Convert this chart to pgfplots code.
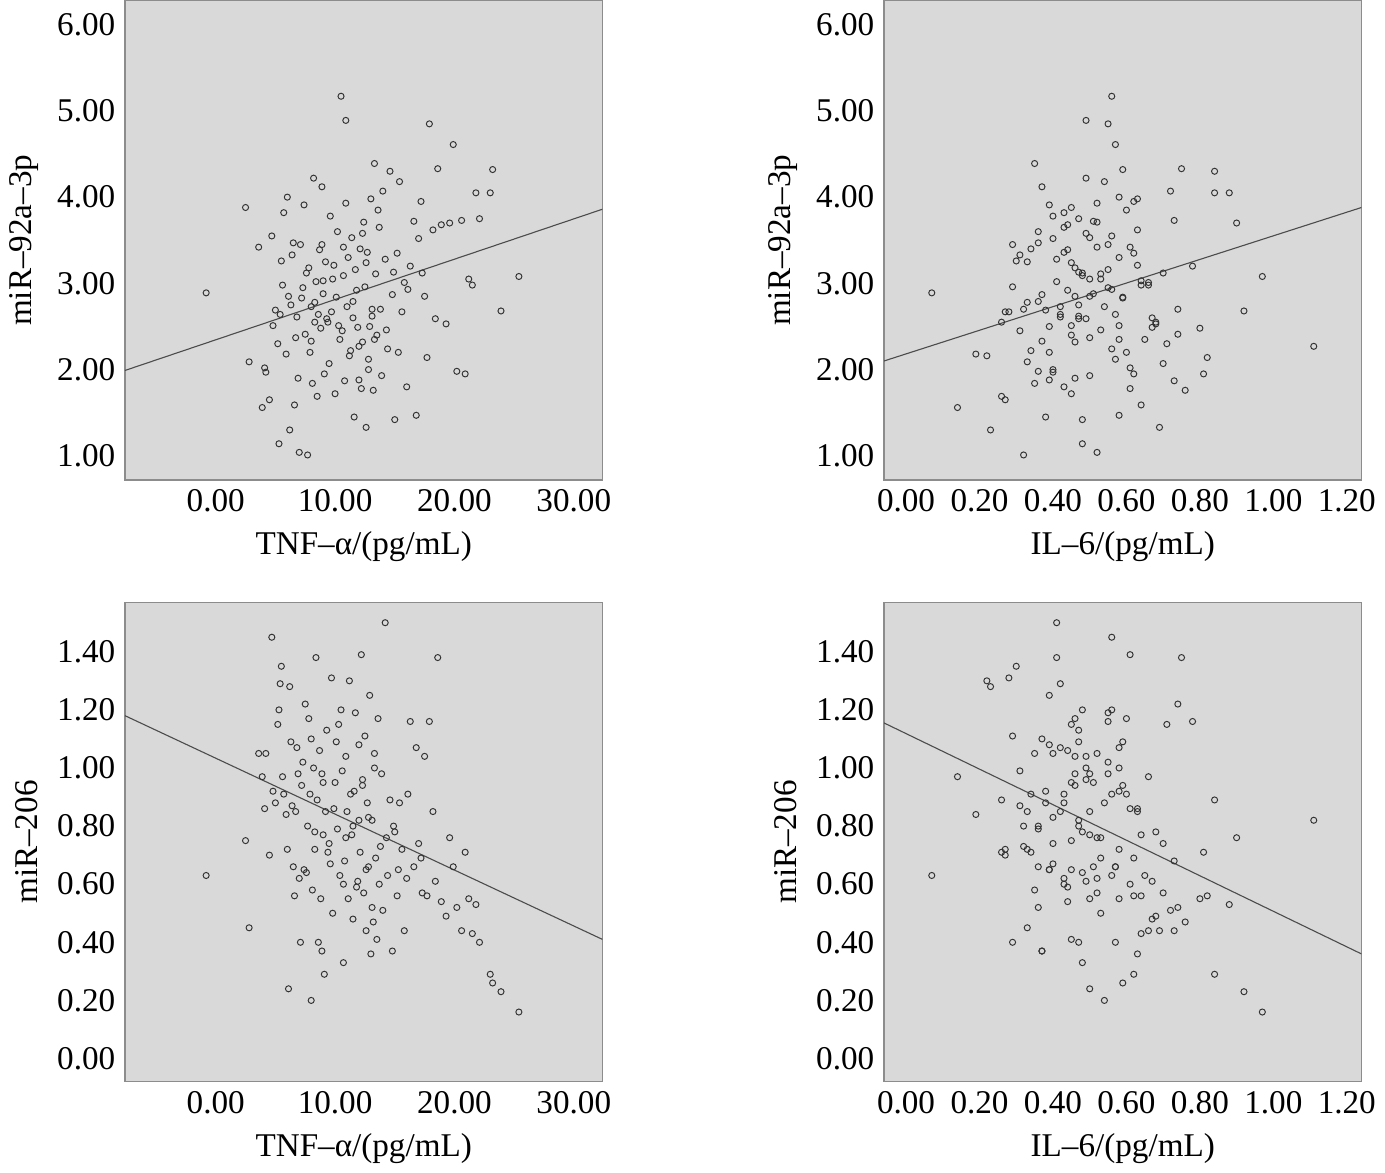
\documentclass[border=0pt]{standalone}
\usepackage{pgfplots}
\usepackage{pgfplotstable}
\usepackage{fontspec}
\setmainfont{Liberation Serif}
\pgfplotsset{compat=1.18}
\pgfplotstableread{
t i a b
-0.8 0.07 2.89 0.63
2.5 0.45 3.88 0.75
2.8 0.33 2.09 0.45
3.6 0.52 3.42 1.05
3.9 0.14 1.56 0.97
4.1 0.61 2.02 0.86
4.2 0.40 1.97 1.05
4.5 0.27 1.65 0.70
4.7 0.56 3.55 1.45
5.0 0.38 2.69 0.88
5.2 0.71 2.30 1.15
5.3 0.48 1.14 1.20
5.5 0.30 3.26 1.35
5.6 0.66 2.98 0.97
5.7 0.43 3.82 0.91
5.9 0.19 2.18 0.84
6.0 0.58 4.00 0.72
6.1 0.50 2.85 0.24
6.2 0.23 1.30 1.28
6.3 0.47 2.75 1.09
6.5 0.36 3.47 0.66
6.6 0.64 1.59 0.56
6.8 0.42 2.61 1.07
7.0 0.52 1.04 0.62
7.1 0.29 3.45 0.40
7.3 0.55 2.95 1.02
7.4 0.39 3.91 0.65
7.5 0.74 2.41 1.22
7.7 0.32 1.01 0.80
7.8 0.46 3.18 1.17
7.9 0.60 2.20 0.91
8.0 0.54 2.73 0.20
8.1 0.35 1.84 0.58
8.2 0.49 4.22 1.00
8.3 0.68 2.55 0.78
8.4 0.41 3.02 1.38
8.5 0.26 1.69 0.89
8.6 0.57 2.64 0.40
8.7 0.44 3.39 1.06
8.8 0.80 2.48 0.55
8.9 0.37 4.12 0.37
9.0 0.51 2.88 0.95
9.1 0.62 1.95 0.29
9.2 0.33 3.25 0.85
9.3 0.47 2.59 1.13
9.5 0.70 2.07 0.74
9.6 0.40 3.78 0.67
9.7 0.28 2.67 1.31
9.8 0.53 3.05 0.50
10.0 0.45 1.72 0.95
10.1 0.59 2.84 1.09
10.2 0.36 3.60 0.79
10.4 0.65 2.35 0.63
10.5 0.56 5.17 1.20
10.6 0.31 2.45 0.99
10.7 0.48 3.09 0.33
10.8 0.73 1.87 0.68
10.9 0.49 4.89 1.04
11.0 0.42 2.73 0.85
11.1 0.58 3.30 0.55
11.2 0.22 2.16 1.30
11.4 0.50 3.53 0.77
11.5 0.67 2.60 0.48
11.6 0.38 1.45 0.92
11.7 0.55 3.16 1.19
11.8 0.44 2.92 0.59
12.0 1.11 2.27 0.82
12.1 0.34 3.40 0.71
12.2 0.61 1.78 1.39
12.3 0.46 2.32 0.94
12.4 0.52 3.71 0.57
12.5 0.29 2.96 1.11
12.6 0.69 1.33 0.44
12.7 0.43 3.36 0.88
12.8 0.57 2.12 0.66
12.9 0.39 2.50 1.25
13.0 0.63 3.98 0.36
13.1 0.47 2.62 0.82
13.2 0.76 1.76 0.47
13.3 0.35 4.39 1.05
13.4 0.53 3.11 0.69
13.5 0.45 2.40 0.41
13.6 0.60 3.85 1.17
13.8 0.32 2.70 0.73
13.9 0.50 1.93 0.98
14.0 0.72 4.07 0.51
14.2 0.41 3.28 1.50
14.4 0.56 2.24 0.63
14.6 0.84 4.30 0.89
14.8 0.37 2.87 0.37
15.0 0.48 1.42 0.78
15.2 0.62 3.35 0.56
15.4 0.54 4.18 0.88
15.6 0.27 2.67 0.72
15.8 0.66 3.01 0.44
16.0 0.43 1.80 0.62
16.3 0.78 3.20 1.16
16.6 0.51 3.72 0.66
16.8 0.58 1.47 1.07
17.0 0.40 3.52 0.74
17.3 0.70 3.12 0.57
17.5 0.46 2.85 1.04
17.7 0.82 2.14 0.56
17.9 0.55 4.85 1.16
18.2 0.63 3.62 0.85
18.4 0.49 2.59 0.61
18.6 0.75 4.33 1.38
18.9 0.44 3.68 0.54
19.3 0.68 2.53 0.49
19.6 0.90 3.70 0.76
19.9 0.57 4.61 0.66
20.2 0.36 1.98 0.52
20.6 0.73 3.73 0.44
20.9 0.81 1.95 0.71
21.2 0.50 3.05 0.55
21.5 0.64 2.98 0.43
21.8 0.88 4.05 0.53
22.1 0.47 3.75 0.40
23.0 0.84 4.05 0.29
23.2 0.59 4.32 0.26
23.9 0.92 2.68 0.23
25.4 0.97 3.08 0.16
5.4 0.42 2.64 1.29
6.4 0.31 3.33 0.87
7.2 0.59 2.83 0.94
7.6 0.48 3.12 0.64
8.0 0.37 2.33 1.10
8.9 0.55 3.45 0.98
9.4 0.26 2.55 0.71
9.9 0.63 3.21 0.86
10.3 0.45 2.51 1.15
10.9 0.52 3.93 0.76
11.3 0.34 2.22 0.91
11.9 0.67 2.49 0.61
12.3 0.49 3.58 0.96
12.8 0.40 2.00 0.83
13.3 0.58 2.35 1.00
13.7 0.43 3.65 0.60
14.3 0.53 2.46 0.76
6.9 0.46 1.90 0.98
8.3 0.33 2.78 0.72
10.7 0.61 3.42 0.60
12.0 0.39 1.88 1.08
13.1 0.74 2.70 0.52
14.9 0.47 3.13 0.80
16.1 0.56 2.93 0.91
4.8 0.58 2.51 0.92
6.7 0.50 2.37 0.85
9.0 0.64 3.03 0.77
11.5 0.36 2.79 0.80
12.6 0.45 3.24 0.65
15.3 0.39 2.20 0.65
17.2 0.62 3.95 0.69
}\data
\pgfplotsset{every axis/.style={width=172.8pt,height=173.5pt,scale only axis,
  axis background/.style={fill=black!15},axis line style={black!45},
  tick style={draw=none},tick label style={font=\large},label style={font=\large},
  /pgf/number format/assume math mode=true,
  /pgf/number format/fixed,/pgf/number format/fixed zerofill}}
\tikzset{pt/.style={only marks,mark=o,mark size=1.1pt,mark options={line width=0.35pt,black!80}}}
\begin{document}
\begin{tikzpicture}
\begin{axis}[at={(46.8pt,0pt)},anchor=north west,xmin=-7.6,xmax=32.4,ymin=0.72,ymax=6.28,
 xtick={0,10,20,30},ytick={1,2,3,4,5,6},xticklabel style={/pgf/number format/precision=2},
 yticklabel style={/pgf/number format/precision=2},
 xlabel={TNF–α/(pg/mL)},ylabel={miR–92a–3p}]
\addplot[pt] table[x=t,y=a]{\data};
\addplot[black!70,no marks] coordinates {(-7.6,1.99) (32.4,3.86)};
\end{axis}
\begin{axis}[at={(321.5pt,0pt)},anchor=north west,xmin=-0.06,xmax=1.24,ymin=0.72,ymax=6.28,
 xtick={0,0.2,0.4,0.6,0.8,1.0,1.2},ytick={1,2,3,4,5,6},xticklabel style={/pgf/number format/precision=2},
 yticklabel style={/pgf/number format/precision=2},
 xlabel={IL–6/(pg/mL)},ylabel={miR–92a–3p}]
\addplot[pt] table[x=i,y=a]{\data};
\addplot[black!70,no marks] coordinates {(-0.06,2.10) (1.24,3.88)};
\end{axis}
\begin{axis}[at={(46.8pt,-217.8pt)},anchor=north west,xmin=-7.6,xmax=32.4,ymin=-0.08,ymax=1.57,
 xtick={0,10,20,30},ytick={0,0.2,0.4,0.6,0.8,1.0,1.2,1.4},xticklabel style={/pgf/number format/precision=2},
 yticklabel style={/pgf/number format/precision=2},
 xlabel={TNF–α/(pg/mL)},ylabel={miR–206}]
\addplot[pt] table[x=t,y=b]{\data};
\addplot[black!70,no marks] coordinates {(-7.6,1.18) (32.4,0.41)};
\end{axis}
\begin{axis}[at={(321.5pt,-217.8pt)},anchor=north west,xmin=-0.06,xmax=1.24,ymin=-0.08,ymax=1.57,
 xtick={0,0.2,0.4,0.6,0.8,1.0,1.2},ytick={0,0.2,0.4,0.6,0.8,1.0,1.2,1.4},xticklabel style={/pgf/number format/precision=2},
 yticklabel style={/pgf/number format/precision=2},
 xlabel={IL–6/(pg/mL)},ylabel={miR–206}]
\addplot[pt] table[x=i,y=b]{\data};
\addplot[black!70,no marks] coordinates {(-0.06,1.155) (1.24,0.36)};
\end{axis}
\end{tikzpicture}
\end{document}
